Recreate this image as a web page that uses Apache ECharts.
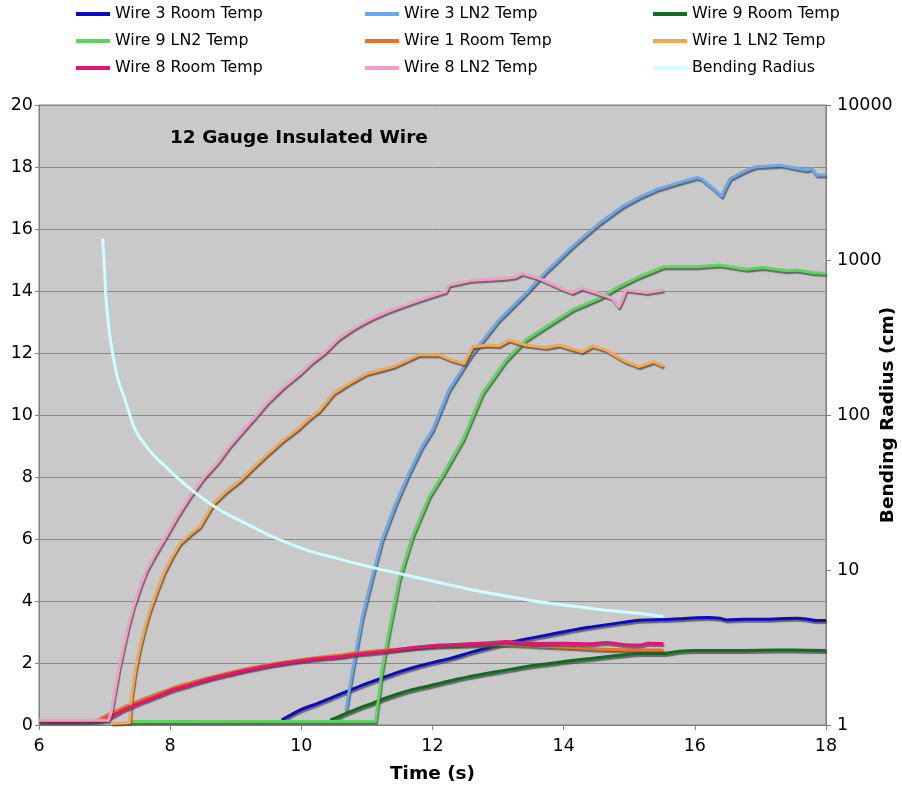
<!DOCTYPE html>
<html>
<head>
<meta charset="utf-8">
<script src="https://cdn.jsdelivr.net/npm/echarts@6/dist/echarts.min.js"></script>
<style>
html,body{margin:0;padding:0;background:#fff;}
#chart{width:902px;height:791px;}
</style>
</head>
<body>
<div id="chart"></div>
<script>
// ---- Data ----
const xTicks = [6, 8, 10, 12, 14, 16, 18];
const leftTicks = [0, 2, 4, 6, 8, 10, 12, 14, 16, 18, 20];
const rightTicks = [1, 10, 100, 1000, 10000];

const w3RoomT = [9.70, 9.98, 10.25, 10.49, 10.75, 11.0, 11.25, 11.5, 11.75, 12.01, 12.27, 12.61, 12.86, 13.12, 13.37, 13.62, 13.88, 14.13, 14.38, 14.64, 14.9, 15.15, 15.52, 15.8, 16.03, 16.2, 16.38, 16.49, 16.75, 17.04, 17.3, 17.55, 17.7, 17.86, 18.0];
const w3RoomV = [0.16, 0.48, 0.70, 0.91, 1.13, 1.34, 1.53, 1.72, 1.88, 2.02, 2.15, 2.36, 2.50, 2.63, 2.75, 2.85, 2.96, 3.06, 3.15, 3.23, 3.31, 3.38, 3.40, 3.43, 3.46, 3.47, 3.44, 3.39, 3.41, 3.41, 3.43, 3.44, 3.42, 3.37, 3.37];

const w3LN2T = [10.68, 10.78, 10.93, 11.08, 11.23, 11.44, 11.64, 11.84, 12.0, 12.25, 12.61, 13.01, 13.42, 13.73, 14.13, 14.54, 14.89, 15.15, 15.42, 15.72, 16.03, 16.1, 16.28, 16.41, 16.46, 16.54, 16.79, 16.94, 17.3, 17.55, 17.71, 17.78, 17.86, 18.0];
const w3LN2V = [0.48, 1.77, 3.49, 4.78, 5.97, 7.15, 8.12, 8.98, 9.52, 10.81, 11.99, 13.06, 13.92, 14.62, 15.43, 16.18, 16.72, 17.02, 17.28, 17.47, 17.66, 17.62, 17.31, 17.06, 17.31, 17.63, 17.90, 18.01, 18.06, 17.96, 17.90, 17.96, 17.74, 17.74];

const w9RoomT = [10.44, 10.57, 10.8, 11.08, 11.3, 11.59, 11.85, 12.1, 12.35, 12.61, 12.86, 13.12, 13.37, 13.62, 13.88, 14.13, 14.38, 14.64, 14.9, 15.15, 15.52, 15.77, 16.0, 16.54, 17.0, 17.5, 18.0];
const w9RoomV = [0.16, 0.27, 0.48, 0.70, 0.88, 1.08, 1.22, 1.34, 1.47, 1.58, 1.68, 1.77, 1.86, 1.94, 2.01, 2.08, 2.14, 2.20, 2.26, 2.31, 2.31, 2.38, 2.40, 2.40, 2.41, 2.42, 2.40];

const w9LN2T = [7.39, 11.13, 11.18, 11.23, 11.34, 11.49, 11.69, 11.95, 12.2, 12.46, 12.76, 13.12, 13.42, 13.73, 14.13, 14.54, 14.84, 15.15, 15.52, 16.03, 16.38, 16.79, 17.04, 17.4, 17.55, 17.81, 18.0];
const w9LN2V = [0.11, 0.12, 0.9, 1.77, 3.06, 4.68, 6.07, 7.37, 8.23, 9.19, 10.7, 11.77, 12.42, 12.85, 13.39, 13.76, 14.14, 14.46, 14.78, 14.78, 14.84, 14.70, 14.76, 14.65, 14.68, 14.59, 14.57];

const w1RoomT = [6.0, 6.85, 7.05, 7.3, 7.52, 7.8, 8.03, 8.3, 8.54, 8.8, 9.05, 9.3, 9.56, 9.8, 10.07, 10.3, 10.57, 10.8, 11.08, 11.3, 11.59, 11.85, 12.1, 12.61, 13.12, 13.62, 14.13, 14.64, 15.15, 15.52];
const w1RoomV = [0.12, 0.14, 0.33, 0.58, 0.78, 1.0, 1.19, 1.36, 1.5, 1.64, 1.76, 1.87, 1.97, 2.05, 2.13, 2.19, 2.25, 2.32, 2.38, 2.42, 2.47, 2.52, 2.55, 2.58, 2.6, 2.55, 2.5, 2.44, 2.42, 2.42];

const w1LN2T = [7.1, 7.38, 7.41, 7.47, 7.54, 7.62, 7.69, 7.8, 7.9, 8.02, 8.15, 8.3, 8.45, 8.66, 8.86, 9.07, 9.27, 9.47, 9.7, 9.93, 10.1, 10.28, 10.49, 10.75, 11.0, 11.2, 11.4, 11.6, 11.79, 12.1, 12.3, 12.48, 12.61, 12.86, 13.01, 13.17, 13.42, 13.73, 13.93, 14.28, 14.44, 14.64, 14.95, 15.15, 15.37, 15.52];
const w1LN2V = [0.05, 0.08, 0.91, 1.8, 2.53, 3.2, 3.71, 4.35, 4.89, 5.4, 5.86, 6.15, 6.40, 7.15, 7.55, 7.90, 8.32, 8.71, 9.15, 9.52, 9.85, 10.16, 10.7, 11.05, 11.34, 11.45, 11.56, 11.75, 11.94, 11.94, 11.77, 11.66, 12.2, 12.26, 12.23, 12.42, 12.26, 12.18, 12.26, 12.04, 12.23, 12.1, 11.72, 11.56, 11.72, 11.58];

const w8RoomT = [6.0, 6.9, 7.09, 7.3, 7.52, 7.8, 8.03, 8.3, 8.54, 8.8, 9.05, 9.3, 9.56, 9.8, 10.07, 10.3, 10.57, 10.8, 11.08, 11.3, 11.59, 11.85, 12.1, 12.35, 12.61, 12.86, 13.12, 13.37, 13.62, 13.88, 14.13, 14.38, 14.64, 14.9, 15.15, 15.3, 15.52];
const w8RoomV = [0.12, 0.12, 0.27, 0.5, 0.70, 0.93, 1.13, 1.3, 1.45, 1.59, 1.72, 1.83, 1.94, 2.02, 2.10, 2.15, 2.20, 2.27, 2.33, 2.39, 2.47, 2.53, 2.58, 2.6, 2.63, 2.65, 2.69, 2.65, 2.63, 2.64, 2.63, 2.62, 2.66, 2.6, 2.58, 2.64, 2.63];

const w8LN2T = [6.0, 7.06, 7.1, 7.16, 7.22, 7.29, 7.36, 7.44, 7.54, 7.64, 7.77, 7.9, 8.1, 8.3, 8.5, 8.71, 8.9, 9.12, 9.3, 9.47, 9.7, 9.98, 10.15, 10.34, 10.57, 10.8, 11.08, 11.3, 11.59, 11.9, 12.2, 12.25, 12.61, 13.12, 13.27, 13.37, 13.62, 14.03, 14.13, 14.28, 14.54, 14.74, 14.84, 14.89, 14.95, 15.15, 15.27, 15.52];
const w8LN2V = [0.15, 0.15, 0.4, 1.13, 1.85, 2.53, 3.2, 3.82, 4.45, 5.0, 5.5, 5.97, 6.7, 7.37, 7.95, 8.44, 8.98, 9.52, 9.95, 10.38, 10.85, 11.34, 11.68, 11.99, 12.47, 12.8, 13.12, 13.33, 13.55, 13.78, 13.98, 14.19, 14.35, 14.41, 14.46, 14.57, 14.41, 14.03, 13.95, 14.09, 13.92, 13.76, 13.49, 13.71, 14.03, 13.98, 13.95, 14.03];

const bendT = [6.97, 7.0, 7.02, 7.05, 7.08, 7.13, 7.18, 7.22, 7.3, 7.36, 7.47, 7.7, 7.93, 8.15, 8.39, 8.6, 8.85, 9.2, 9.56, 10.07, 10.57, 11.08, 11.59, 12.1, 12.61, 13.12, 13.62, 14.13, 14.64, 15.15, 15.52];
const bendR = [1380, 850, 577, 420, 323, 240, 187, 161, 130, 108, 80, 58, 46.4, 38, 31.3, 27, 23.2, 19.5, 16.4, 13.5, 11.8, 10.4, 9.29, 8.3, 7.43, 6.8, 6.24, 5.85, 5.5, 5.26, 5.0];

const seriesNames = ['Wire 3 Room Temp', 'Wire 3 LN2 Temp', 'Wire 9 Room Temp', 'Wire 9 LN2 Temp', 'Wire 1 Room Temp', 'Wire 1 LN2 Temp', 'Wire 8 Room Temp', 'Wire 8 LN2 Temp', 'Bending Radius'];
const seriesColors = ['#0b0bc4', '#68a8ee', '#0f6e1d', '#5bd65b', '#ef6f1f', '#f6a64c', '#e8127a', '#f29cc7', '#ccffff'];
const seriesSmooth = [0.3, false, 0.3, false, 0.3, false, 0.3, false, 0.3];

// ---- Build chart ----
const zip = (t, v) => t.map((x, i) => [x, v[i]]);
const seriesData = [
  zip(w3RoomT, w3RoomV), zip(w3LN2T, w3LN2V), zip(w9RoomT, w9RoomV), zip(w9LN2T, w9LN2V),
  zip(w1RoomT, w1RoomV), zip(w1LN2T, w1LN2V), zip(w8RoomT, w8RoomV), zip(w8LN2T, w8LN2V),
  zip(bendT, bendR)
];
const FONT = 'DejaVu Sans';

const series = seriesNames.map((name, i) => {
  const isBend = i === 8;
  return {
    name: name,
    type: 'line',
    yAxisIndex: isBend ? 1 : 0,
    data: seriesData[i],
    showSymbol: false,
    symbol: 'none',
    smooth: seriesSmooth[i],
    z: isBend ? 3 : 2,
    color: seriesColors[i],
    lineStyle: isBend ? { width: 3, color: seriesColors[i] } : {
      width: 3, color: seriesColors[i], join: 'round',
      shadowColor: 'rgba(70,70,70,0.75)', shadowBlur: 1, shadowOffsetX: 1, shadowOffsetY: 2
    },
    emphasis: { disabled: true },
    animation: false
  };
});

const legendCols = [
  { left: 76, names: [seriesNames[0], seriesNames[3], seriesNames[6]] },
  { left: 365, names: [seriesNames[1], seriesNames[4], seriesNames[7]] },
  { left: 653, names: [seriesNames[2], seriesNames[5], seriesNames[8]] }
];

const option = {
  backgroundColor: '#ffffff',
  animation: false,
  title: {
    text: '12 Gauge Insulated Wire',
    left: 165, top: 124,
    textStyle: { fontFamily: FONT, fontSize: 18.5, fontWeight: 'bold', color: '#000' }
  },
  legend: legendCols.map(c => ({
    data: c.names,
    orient: 'vertical',
    left: c.left, top: 5, padding: 0,
    itemWidth: 34, itemHeight: 4, itemGap: 9,
    icon: 'rect',
    selectedMode: false,
    textStyle: { fontFamily: FONT, fontSize: 15.8, color: '#000', lineHeight: 18 }
  })),
  grid: {
    left: 39, right: 76, top: 105, bottom: 66,
    outerBoundsMode: 'none', containLabel: false,
    show: true, backgroundColor: '#c9c9c9', borderColor: '#808080', borderWidth: 1
  },
  xAxis: {
    type: 'value', min: 6, max: 18, interval: 2,
    name: 'Time (s)', nameLocation: 'middle', nameGap: 40,
    nameTextStyle: { fontFamily: FONT, fontSize: 18.5, fontWeight: 'bold', color: '#000' },
    axisLine: { show: true, lineStyle: { color: '#808080', width: 1 } },
    axisTick: { show: true, length: 5, lineStyle: { color: '#808080' } },
    axisLabel: { fontFamily: FONT, fontSize: 17.5, color: '#000', margin: 12,
      formatter: v => xTicks.includes(v) ? String(v) : '' },
    splitLine: { show: false }
  },
  yAxis: [
    {
      type: 'value', min: 0, max: 20, interval: 2, position: 'left',
      axisLine: { show: true, lineStyle: { color: '#808080', width: 1 } },
      axisTick: { show: true, length: 4, lineStyle: { color: '#808080' } },
      axisLabel: { fontFamily: FONT, fontSize: 17.5, color: '#000', margin: 6,
        formatter: v => leftTicks.includes(v) ? String(v) : '' },
      splitLine: { show: true, lineStyle: { color: '#8a8a8a', width: 1 } }
    },
    {
      type: 'log', logBase: 10, min: 1, max: 10000, position: 'right',
      name: 'Bending Radius (cm)', nameLocation: 'middle', nameGap: 53, nameRotate: 90,
      nameMoveOverlap: false,
      nameTextStyle: { fontFamily: FONT, fontSize: 18.5, fontWeight: 'bold', color: '#000' },
      axisLine: { show: true, lineStyle: { color: '#808080', width: 1 } },
      axisTick: { show: true, length: 5, lineStyle: { color: '#808080' } },
      axisLabel: { fontFamily: FONT, fontSize: 17.5, color: '#000', margin: 11,
        formatter: v => rightTicks.includes(Math.round(v)) ? String(Math.round(v)) : '' },
      splitLine: { show: false }
    }
  ],
  series: series
};

const chart = echarts.init(document.getElementById('chart'), null, { renderer: 'canvas' });
chart.setOption(option);
</script>
</body>
</html>
